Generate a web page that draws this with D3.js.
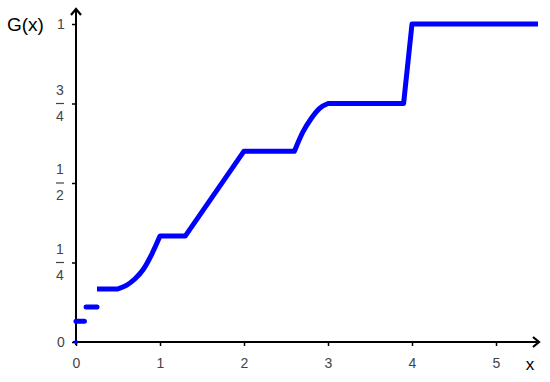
<!DOCTYPE html>
<html>
<head>
<meta charset="utf-8">
<script src="https://cdn.jsdelivr.net/npm/d3@7"></script>
<style>
  body { margin: 0; background: #fff; }
  text { font-family: Arial, "Liberation Sans", sans-serif; }
</style>
</head>
<body>
<svg id="chart" width="550" height="382"></svg>
<script>
// x ticks and y tick labels
const xTicks = [0, 1, 2, 3, 4, 5];
const yTicks = [0, 0.25, 0.5, 0.75, 1];
const yLabels = ['0', '1/4', '1/2', '3/4', '1'];

// short separate pieces near the origin
const stepX0 = [0, 0.12];
const stepX1 = [0.1, 0.25];
const stepY = [0.065, 0.11];

// the connected part of G(x), split in pieces; smooth pieces are flagged
const pieceX = [
  [0.25, 0.5],
  [0.5, 0.6, 0.7, 0.8, 0.9, 1],
  [1, 1.3, 2, 2.6],
  [2.6, 2.7, 2.8, 2.9, 3],
  [3, 3.9, 4, 5.5]
];
const pieceY = [
  [0.167, 0.167],
  [0.167, 0.178, 0.198, 0.228, 0.275, 0.333],
  [0.333, 0.333, 0.6, 0.6],
  [0.6, 0.66, 0.703, 0.735, 0.75],
  [0.75, 0.75, 1, 1]
];
const pieceSmooth = [false, true, false, true, false];

const svg = d3.select('#chart');

const x = d3.scaleLinear().domain([0, 5]).range([76, 496]);
const y = d3.scaleLinear().domain([0, 1]).range([342, 24]);

// axes with ticks
const xAxis = d3.axisBottom(x).tickValues(xTicks).tickSize(4).tickPadding(12).tickFormat(d3.format('d'));
const gx = svg.append('g').attr('transform', `translate(0,${y(0)})`).call(xAxis);
gx.select('.domain').remove();
gx.selectAll('line').attr('stroke', '#000').attr('stroke-width', 1.5);
gx.selectAll('text').attr('fill', '#444').attr('font-size', 14);

const yAxis = d3.axisLeft(y).tickValues(yTicks).tickSize(4).tickFormat('');
const gy = svg.append('g').attr('transform', `translate(${x(0)},0)`).call(yAxis);
gy.select('.domain').remove();
gy.selectAll('line').attr('stroke', '#000').attr('stroke-width', 1.5);

// y labels, fractions stacked
yLabels.forEach((lab, i) => {
  const yy = y(yTicks[i]);
  const parts = lab.split('/');
  if (parts.length === 1) {
    svg.append('text').attr('x', 61).attr('y', yy).attr('dy', '0.35em')
      .attr('text-anchor', 'middle').attr('fill', '#444').attr('font-size', 14).text(lab);
  } else {
    svg.append('text').attr('x', 60).attr('y', yy - 6).attr('dy', '-0.2em')
      .attr('text-anchor', 'middle').attr('fill', '#444').attr('font-size', 14).text(parts[0]);
    svg.append('line').attr('x1', 56).attr('x2', 64).attr('y1', yy).attr('y2', yy)
      .attr('stroke', '#444').attr('stroke-width', 1.2);
    svg.append('text').attr('x', 60).attr('y', yy + 16).attr('dy', '0.1em')
      .attr('text-anchor', 'middle').attr('fill', '#444').attr('font-size', 14).text(parts[1]);
  }
});

// axis lines with arrows
svg.append('line').attr('x1', x(0) - 3).attr('x2', 539).attr('y1', y(0)).attr('y2', y(0))
  .attr('stroke', '#000').attr('stroke-width', 2);
svg.append('path').attr('d', `M533,${y(0) - 5}L539,${y(0)}L533,${y(0) + 5}`)
  .attr('fill', 'none').attr('stroke', '#000').attr('stroke-width', 2.2);
svg.append('line').attr('x1', x(0)).attr('x2', x(0)).attr('y1', y(0) + 3).attr('y2', 9)
  .attr('stroke', '#000').attr('stroke-width', 2);
svg.append('path').attr('d', `M${x(0) - 5},15L${x(0)},9L${x(0) + 5},15`)
  .attr('fill', 'none').attr('stroke', '#000').attr('stroke-width', 2.2);

// axis titles
svg.append('text').attr('x', 7).attr('y', 31).attr('font-size', 19).attr('fill', '#000').text('G(x)');
svg.append('text').attr('x', 530).attr('y', 364).attr('dy', '0.35em').attr('text-anchor', 'middle')
  .attr('font-size', 17).attr('fill', '#000').text('x');

// G(x)
const blue = '#0000ff';
stepY.forEach((v, i) => {
  svg.append('line').attr('x1', x(stepX0[i])).attr('x2', x(stepX1[i]))
    .attr('y1', y(v)).attr('y2', y(v))
    .attr('stroke', blue).attr('stroke-width', 5).attr('stroke-linecap', 'round');
});

// join the pieces in one path so corners stay sharp and curves stay smooth
let d = '';
pieceX.forEach((xs, k) => {
  const pts = xs.map((v, i) => [v, pieceY[k][i]]);
  const ln = d3.line().x(p => x(p[0])).y(p => y(p[1]))
    .curve(pieceSmooth[k] ? d3.curveMonotoneX : d3.curveLinear);
  const s = ln(pts);
  d += k === 0 ? s : 'L' + s.slice(1);
});
svg.append('path').attr('d', d)
  .attr('fill', 'none').attr('stroke', blue).attr('stroke-width', 5)
  .attr('stroke-linejoin', 'round').attr('stroke-linecap', 'butt');

svg.append('circle').attr('cx', x(0)).attr('cy', y(0)).attr('r', 2).attr('fill', blue);
</script>
</body>
</html>
